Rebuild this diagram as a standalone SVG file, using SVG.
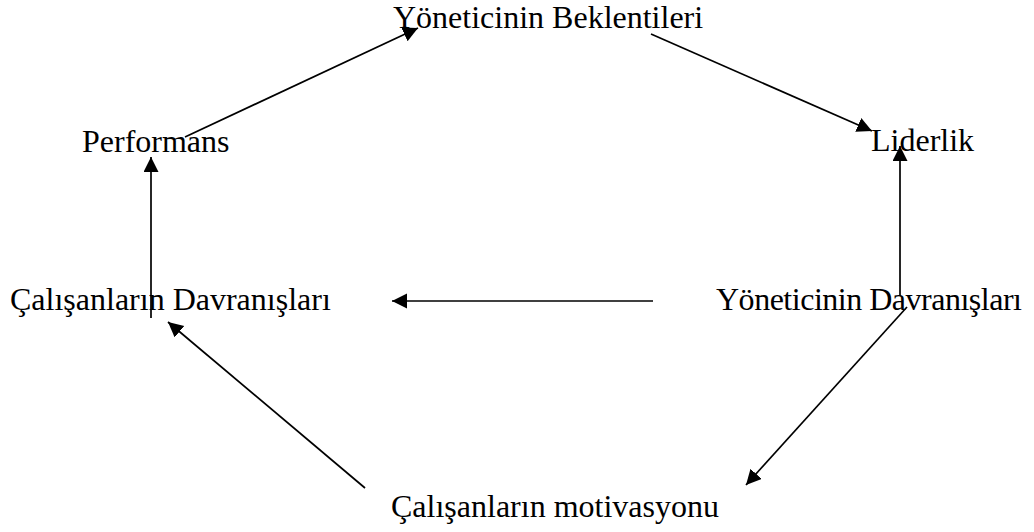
<svg xmlns="http://www.w3.org/2000/svg" width="1034" height="532" viewBox="0 0 1034 532">
<style>
.lbl{font-family:"Liberation Serif","Times New Roman",serif;font-size:32px;fill:#000}
.edge{stroke:#000;stroke-width:1.7;fill:none;marker-end:url(#ah)}
</style>
<defs>
<marker id="ah" markerUnits="userSpaceOnUse" markerWidth="16" markerHeight="16" refX="15" refY="7.5" orient="auto" viewBox="0 0 16 16">
<path d="M0,0 L15,7.5 L0,15 z" fill="#000"/>
</marker>
</defs>
<rect width="1034" height="532" fill="#fff"/>
<g id="connectors">
<line class="edge" x1="185" y1="137" x2="418" y2="28"/>
<line class="edge" x1="651" y1="34" x2="872" y2="131"/>
<line class="edge" x1="900" y1="296" x2="900" y2="146"/>
<line class="edge" x1="151" y1="318" x2="151" y2="157"/>
<line class="edge" x1="653" y1="301" x2="392" y2="301"/>
<line class="edge" x1="907" y1="307" x2="746" y2="485"/>
<line class="edge" x1="365" y1="488" x2="168" y2="322"/>
</g>
<g id="yoneticinin-beklentileri"><text class="lbl" x="393" y="28">Yöneticinin Beklentileri</text></g>
<g id="performans"><text class="lbl" x="82" y="152">Performans</text></g>
<g id="liderlik"><text class="lbl" x="871" y="151">Liderlik</text></g>
<g id="calisanlarin-davranislari"><text class="lbl" x="10" y="310">Çalışanların Davranışları</text></g>
<g id="yoneticinin-davranislari"><text class="lbl" x="716" y="310" textLength="306" lengthAdjust="spacing">Yöneticinin Davranışları</text></g>
<g id="calisanlarin-motivasyonu"><text class="lbl" x="391" y="517">Çalışanların motivasyonu</text></g>
</svg>
